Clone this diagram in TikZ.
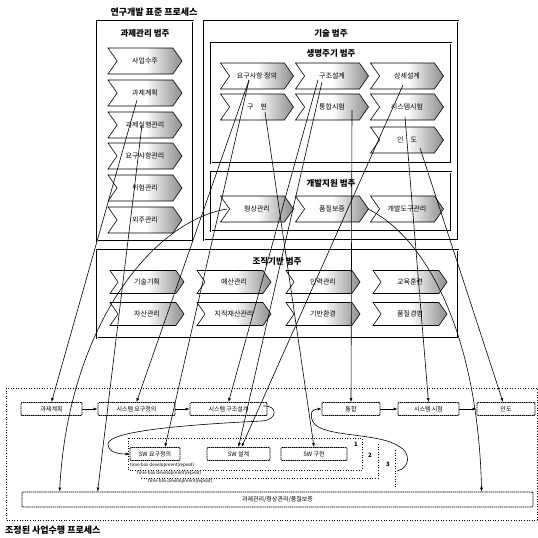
\documentclass[tikz,border=0pt]{standalone}
\usepackage{fontspec}
\setmainfont{Noto Sans CJK KR}
\usetikzlibrary{shapes.symbols,arrows.meta,calc}
\begin{document}
\begin{tikzpicture}[x=1pt,y=-1pt,
  catbox/.style={draw, line width=0.75pt, double, double distance=0.8pt, inner sep=0pt, outer sep=0pt},
  cattitle/.style={font=\fontsize{8.5}{9}\selectfont\bfseries, inner sep=0pt},
  chev/.style={signal, signal to=east, signal from=west, signal pointer angle=110, draw, line width=0.6pt,
    left color=white, right color=black!45, middle color=white,
    minimum width=74pt, minimum height=26pt, inner sep=0pt, font=\fontsize{7}{7}\selectfont},
  ochev/.style={chev, minimum height=23pt},
  pbox/.style={draw, line width=0.8pt, dash pattern=on 1.5pt off 0.6pt, rounded corners=1pt,
    minimum height=13pt, inner sep=0pt, font=\fontsize{6}{7}\selectfont},
  arr/.style={-{Latex[length=4pt,width=3pt]}, line width=0.6pt},
  loopline/.style={dotted, line width=0.6pt},
  note/.style={font=\fontsize{4.5}{5}\selectfont, inner sep=0pt, anchor=west},
  num/.style={font=\fontsize{6}{7}\selectfont\bfseries, inner sep=0pt}
]
\useasboundingbox (0,0) rectangle (538,538);

% ---------- standard process ----------
\node[font=\fontsize{9}{10}\selectfont\bfseries, inner sep=0pt] (t1) at (154,12) {연구개발 표준 프로세스};

\node[catbox, minimum width=96pt, minimum height=220pt] (pm) at (145,131) {};
\node[cattitle] (pmt) at (145,33) {과제관리 범주};
\node[chev] (L1) at (145,61) {사업수주};
\node[chev] (L2) at (145,93) {과제계획};
\node[chev] (L3) at (145,125) {과제실행관리};
\node[chev] (L4) at (145,156) {요구사항관리};
\node[chev] (L5) at (145,188) {위험관리};
\node[chev] (L6) at (145,220) {외주관리};

\node[catbox, minimum width=254pt, minimum height=219pt] (tech) at (331,130.5) {};
\node[cattitle] (techt) at (331,33) {기술 범주};
\node[catbox, minimum width=240pt, minimum height=120pt] (life) at (331,103) {};
\node[cattitle] (lifet) at (331,53) {생명주기 범주};
\node[chev, minimum width=73pt] (req) at (257,76) {요구사항 정의};
\node[chev, minimum width=73pt] (arch) at (332,76) {구조설계};
\node[chev, minimum width=73pt] (det) at (407,76) {상세설계};
\node[chev, minimum width=73pt] (impl) at (257,107) {구\quad 현};
\node[chev, minimum width=73pt] (itest) at (332,107) {통합시험};
\node[chev, minimum width=73pt] (stest) at (407,107) {시스템시험};
\node[chev, minimum width=73pt] (del) at (407,140) {인\quad 도};

\node[catbox, minimum width=240pt, minimum height=59pt] (dev) at (331,201.5) {};
\node[cattitle] (devt) at (331,183) {개발지원 범주};
\node[chev, minimum width=73pt] (cm) at (257,209) {형상관리};
\node[chev, minimum width=73pt] (qa) at (332,209) {품질보증};
\node[chev, minimum width=73pt] (tool) at (407,209) {개발도구관리};

\node[catbox, minimum width=361pt, minimum height=88pt] (org) at (277.5,294) {};
\node[cattitle] (orgt) at (277,261) {조직기반 범주};
\node[ochev] (o1) at (147,282) {기술기획};
\node[ochev] (o2) at (234,282) {예산관리};
\node[ochev] (o3) at (323,282) {인력관리};
\node[ochev] (o4) at (410,282) {교육훈련};
\node[ochev] (o5) at (147,314) {자산관리};
\node[ochev] (o6) at (234,314) {지적재산관리};
\node[ochev] (o7) at (323,314) {기반환경};
\node[ochev] (o8) at (410,314) {품질경영};

% ---------- tailored process ----------
\draw[dotted, line width=0.6pt] (6,388) rectangle (537,520);
\node[font=\fontsize{9}{10}\selectfont\bfseries, inner sep=0pt, anchor=west] (t2) at (5,530) {조정된 사업수행 프로세스};

\node[pbox, minimum width=61pt] (pg) at (51.5,409) {과제계획};
\node[pbox, minimum width=77pt] (sr) at (136.5,409) {시스템 요구정의};
\node[pbox, minimum width=77pt] (sa) at (228.5,409) {시스템 구조설계};
\node[pbox, minimum width=58pt] (itg) at (351,409) {통합};
\node[pbox, minimum width=61pt] (st) at (428.5,409) {시스템 시험};
\node[pbox, minimum width=58pt] (dl) at (506,409) {인도};
\node[pbox, minimum width=50pt] (swr) at (155,454) {SW 요구정의};
\node[pbox, minimum width=63pt] (swd) at (238.5,454) {SW 설계};
\node[pbox, minimum width=66pt] (swi) at (314,454) {SW 구현};
\node[pbox, minimum width=511pt, minimum height=15pt] (bar) at (277.5,499.5) {과제관리/형상관리/품질보증};

% iteration loops
\draw[loopline] (128,438) rectangle (362,470);
\draw[loopline] (378,444) -- (378,478) -- (140,478);
\draw[loopline] (395,450) -- (395,488);
\node[num] (n1) at (356,444) {1};
\node[num] (n2) at (370,455) {2};
\node[num] (n3) at (388,464) {3};
\node[note] (tb1) at (130,465) {time box development(repeat)};
\node[note] (tb2) at (137,473) {time box development(repeat)};
\node[note] (tb3) at (148,481) {time box development(repeat)};

% flow arrows
\draw[arr] (pg.east) -- (sr.west);
\draw[arr] (sr.east) -- (sa.west);
\draw[arr] (itg.east) -- (st.west);
\draw[arr] (st.east) -- (dl.west);
\draw[arr] ($(sa.east)+(-4,-3)$) .. controls (278,405) and (278,420) .. (262,421)
   .. controls (200,424) and (108,430) .. (108,444) .. controls (108,452) and (118,454) .. (swr.west);
\draw[arr] (397,471) .. controls (411,468) and (410,452) .. (400,447)
   .. controls (380,432) and (322,438) .. (313,422) .. controls (309,413) and (312,409) .. (itg.west);

% mapping arrows
\draw[arr] ($(L2.center)+(-8,7)$) -- (pg.north);
\draw[arr] ($(L3.center)+(-3,0)$) -- ($(bar.north west)+(76,0)$);
\draw[arr] ($(cm.center)+(-30,0)$) .. controls (150,222) and (68,330) .. ($(bar.north west)+(38,0)$);
\draw[arr] ($(req.center)+(-8,4)$) -- (sr.north);
\draw[arr] ($(req.center)+(-8,4)$) -- ($(swr.north)+(10,0)$);
\draw[arr] ($(arch.center)+(-14,4)$) -- (sa.north);
\draw[arr] ($(arch.center)+(-10,6)$) -- (swd.north);
\draw[arr] ($(det.center)+(-4,9)$) -- ($(swd.north)+(3,0)$);
\draw[arr] ($(impl.center)+(8,5)$) -- (swi.north);
\draw[arr] ($(itest.center)+(20,3)$) -- (itg.north);
\draw[arr] ($(stest.center)+(-2,10)$) -- (st.north);
\draw[arr] ($(qa.center)+(36,0)$) .. controls (430,240) and (478,340) .. ($(bar.north west)+(460,0)$);
\draw[arr] ($(del.center)+(13,8)$) -- ($(dl.north)+(-3,0)$);
\end{tikzpicture}
\end{document}
